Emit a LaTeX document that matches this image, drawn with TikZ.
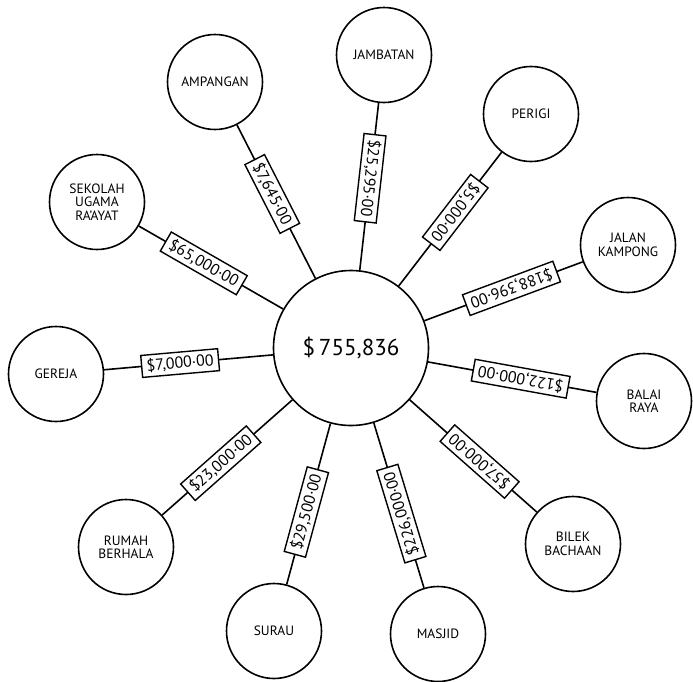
\documentclass[tikz,border=0pt]{standalone}
\usepackage{fontspec}
\setmainfont{PT Sans}

\begin{document}
\begin{tikzpicture}[x=1pt,y=1pt,
		tempat/.style={draw,circle,line width=1.6pt,minimum size=95pt,inner sep=0pt,align=center,
			font=\fontsize{13.5}{13.5}\selectfont},
		pusat/.style={draw,circle,line width=1.6pt,minimum size=155pt,inner sep=0pt,
			font=\fontsize{23}{26}\selectfont},
		wang/.style={draw,fill=white,line width=1.4pt,sloped,allow upside down,pos=0.45,
			inner xsep=5pt,inner ysep=0pt,minimum height=22pt,
			font=\fontsize{16}{17}\selectfont},
		garis/.style={line width=1.6pt}]
		\useasboundingbox (0,0) rectangle (693,-681);
		
		% Jumlah
		\node[pusat] (jumlah) at (351,-348) {\$\,755,836};
		
		% Tempat
		\node[tempat] (jambatan) at (384,-55)  {JAMBATAN};
		\node[tempat] (perigi)   at (531,-114) {PERIGI};
		\node[tempat] (jalan)    at (628,-245) {JALAN\\KAMPONG};
		\node[tempat] (balai)    at (644,-401) {BALAI\\RAYA};
		\node[tempat] (bilek)    at (573,-544) {BILEK\\BACHAAN};
		\node[tempat] (masjid)   at (438,-634) {MASJID};
		\node[tempat] (surau)    at (274,-631) {SURAU};
		\node[tempat] (rumah)    at (126,-547) {RUMAH\\BERHALA};
		\node[tempat] (gereja)   at (56,-374)  {GEREJA};
		\node[tempat] (sekolah)  at (97,-202)  {SEKOLAH\\UGAMA\\RA'AYAT};
		\node[tempat] (ampangan) at (215,-82)  {AMPANGAN};
		
		% Peruntukan
		\draw[garis] (jambatan) -- node[wang] {\$25,295·00} (jumlah);
		\draw[garis] (perigi)   -- node[wang] {\$5,000·00} (jumlah);
		\draw[garis] (jalan)    -- node[wang] {\$188,396·00} (jumlah);
		\draw[garis] (balai)    -- node[wang] {\$122,000·00} (jumlah);
		\draw[garis] (bilek)    -- node[wang] {\$57,000·00} (jumlah);
		\draw[garis] (masjid)   -- node[wang] {\$226,000·00} (jumlah);
		\draw[garis] (surau)    -- node[wang] {\$29,500·00} (jumlah);
		\draw[garis] (rumah)    -- node[wang] {\$23,000·00} (jumlah);
		\draw[garis] (gereja)   -- node[wang] {\$7,000·00} (jumlah);
		\draw[garis] (sekolah)  -- node[wang] {\$65,000·00} (jumlah);
		\draw[garis] (ampangan) -- node[wang] {\$7,645·00} (jumlah);
	\end{tikzpicture}
\end{document}
